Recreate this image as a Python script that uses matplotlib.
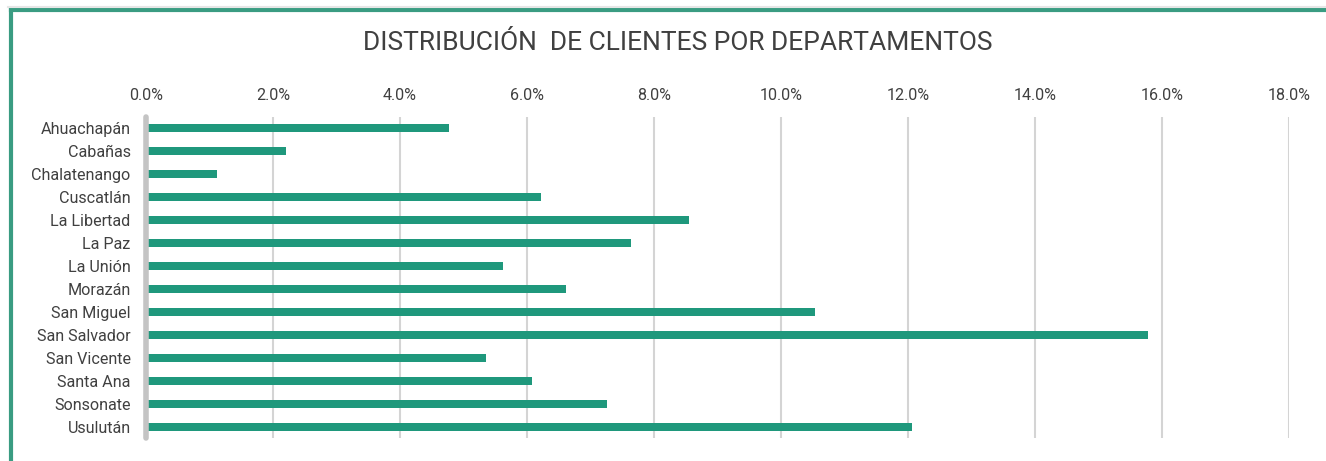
import matplotlib
matplotlib.use("Agg")
import matplotlib.pyplot as plt
from matplotlib.lines import Line2D
from matplotlib.ticker import FuncFormatter

departamentos = ["Ahuachapán", "Cabañas", "Chalatenango", "Cuscatlán", "La Libertad",
                 "La Paz", "La Unión", "Morazán", "San Miguel", "San Salvador",
                 "San Vicente", "Santa Ana", "Sonsonate", "Usulután"]
porcentajes = [4.77, 2.20, 1.12, 6.22, 8.55, 7.64, 5.62, 6.61, 10.54, 15.78,
               5.35, 6.08, 7.26, 12.07]
ticks = [0, 2, 4, 6, 8, 10, 12, 14, 16, 18]

plt.rcParams['font.family'] = ['Roboto', 'DejaVu Sans']

fig = plt.figure(figsize=(13.26, 4.61), dpi=100)
ax = fig.add_axes([0.110, 0.049, 0.862, 0.698])

pos = list(range(len(departamentos)))
ax.barh(pos, porcentajes, height=0.36, color="#1f987c", zorder=3)
ax.set_ylim(len(departamentos) - 0.5, -0.5)
ax.set_xlim(0, 18)
ax.set_yticks(pos)
ax.set_yticklabels(departamentos, fontsize=11.6, color="#404040")
ax.set_xticks(ticks)
ax.xaxis.set_major_formatter(FuncFormatter(lambda v, p: f"{v:.1f}%"))
ax.xaxis.tick_top()
ax.tick_params(axis='x', length=0, pad=10, labelsize=11.6, labelcolor="#404040")
ax.tick_params(axis='y', length=0, pad=11)
ax.grid(axis='x', color="#d4d4d4", linewidth=1.5, zorder=0)

for s in ["top", "right", "bottom"]:
    ax.spines[s].set_visible(False)
ax.spines["left"].set_color("#c4c4c4")
ax.spines["left"].set_linewidth(4)
ax.spines["left"].set_capstyle("round")
ax.spines["left"].set_zorder(4)

fig.text(0.511, 0.907, "DISTRIBUCIÓN  DE CLIENTES POR DEPARTAMENTOS",
         ha="center", va="center", fontsize=19, color="#404040")

# marco verde (solo se ven arriba e izquierda)
fig.add_artist(Line2D([0.0083, 1.0], [0.978, 0.978], color="#3a9c82", linewidth=3))
fig.add_artist(Line2D([0.0083, 0.0083], [0.0, 0.978], color="#3a9c82", linewidth=3))
fig.add_artist(Line2D([0.006, 1.0], [0.984, 0.984], color="#e6e6e6", linewidth=1.5))

fig.savefig("out.png", dpi=100)
